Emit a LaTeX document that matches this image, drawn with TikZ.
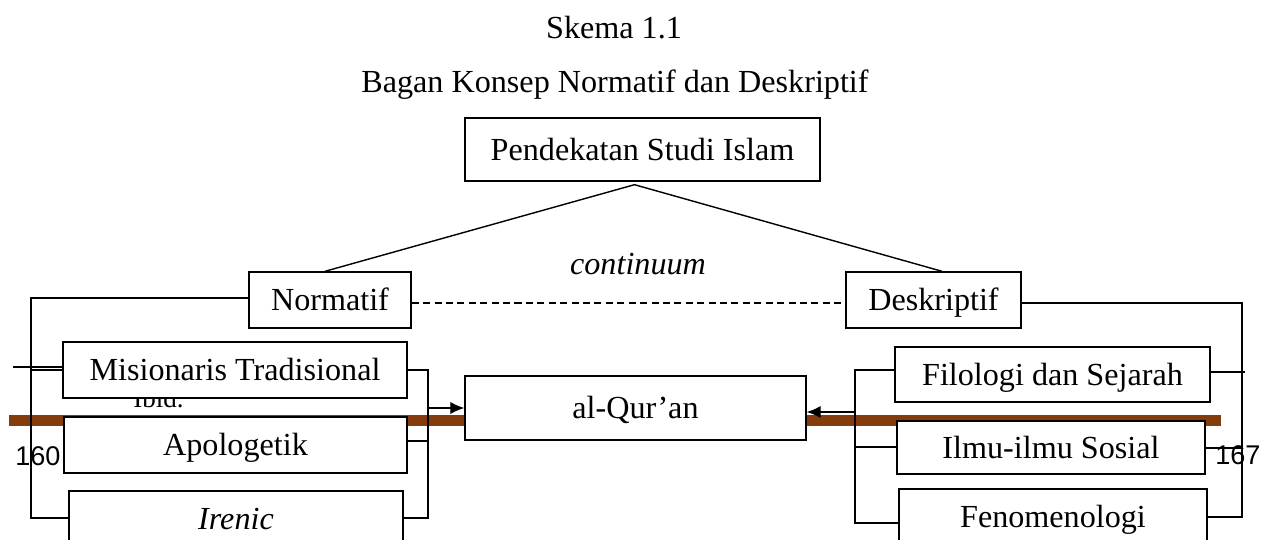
\documentclass[tikz,border=0pt]{standalone}
\usepackage{fontspec}
\setmainfont{Liberation Serif}
\newfontfamily\pagenofont{Liberation Sans}
\usepackage{xcolor}
\usetikzlibrary{arrows,arrows.meta,positioning}
\definecolor{footbrown}{RGB}{132,60,12}
\tikzstyle{box} = [rectangle, draw=black, fill=white, line width=0.8pt, inner sep=0pt, text centered, text height=12.5pt, text depth=0pt, font=\fontsize{18.3}{22}\selectfont]
\tikzstyle{link} = [line width=0.8pt]
\tikzstyle{arrow} = [line width=0.8pt,-{Latex[length=8pt,width=7pt]}]
\tikzstyle{title} = [anchor=base, inner sep=0pt, font=\fontsize{18.3}{22}\selectfont]

\begin{document}
\begin{tikzpicture}[x=0.02cm, y=-0.02cm]
                                \useasboundingbox (0,0) rectangle (1271,540);
                                % footnote remains behind the chart
                                \coordinate (bl) at (9,420.5);
                                \coordinate (br) at (1221,420.5);
                                \draw [footbrown, line width=0.22cm] (bl) -- (br);
                                \node (ibid) [anchor=base west, inner sep=0pt, font=\fontsize{15.4}{18}\selectfont] at (133,407) {Ibid.};
                                % titles
                                \node (skema) [title] at (614,39) {Skema 1.1};
                                \node (bagan) [title] at (615,93) {Bagan Konsep Normatif dan Deskriptif};
                                \node (cont) [title, font=\fontsize{18.3}{22}\selectfont\itshape] at (638,275) {continuum};
                                % boxes
                                \node (pend) [box, minimum width=7.1cm, minimum height=1.26cm] at (642.5,149.5) {Pendekatan Studi Islam};
                                \node (norm) [box, minimum width=3.24cm, minimum height=1.12cm] at (330,300) {Normatif};
                                \node (desk) [box, minimum width=3.5cm, minimum height=1.12cm] at (933.5,300) {Deskriptif};
                                \node (mis) [box, minimum width=6.88cm, minimum height=1.12cm] at (235,370) {Misionaris Tradisional};
                                \node (apo) [box, minimum width=6.86cm, minimum height=1.12cm] at (235.5,445) {Apologetik};
                                \node (iren) [box, minimum width=6.68cm, minimum height=1.12cm] at (236,519) {\itshape Irenic};
                                \node (quran) [box, minimum width=6.82cm, minimum height=1.28cm] at (635.5,408) {al-Qur'an};
                                \node (fil) [box, minimum width=6.3cm, minimum height=1.1cm] at (1052.5,374.5) {Filologi dan Sejarah};
                                \node (ilmu) [box, minimum width=6.16cm, minimum height=1.06cm] at (1051,447.5) {Ilmu-ilmu Sosial};
                                \node (fen) [box, minimum width=6.16cm, minimum height=1.12cm] at (1053,517) {Fenomenologi};
                                % top branches
                                \draw [link] ([xshift=-0.1cm]norm.north) -- ([xshift=-0.16cm, yshift=-0.06cm]pend.south) -- ([xshift=0.17cm]desk.north);
                                \draw [link, dashed, dash pattern=on 4pt off 2.5pt] ([yshift=-0.06cm]norm.east) -- ([yshift=-0.06cm]desk.west);
                                % left group
                                \coordinate (nl) at (31,298);
                                \coordinate (nlb) at (31,518);
                                \draw [link] (norm.west |- nl) -- (nl) -- (nlb) -- (iren.west |- nlb);
                                \coordinate (ml) at (13,367);
                                \coordinate (ml2) at (31,370);
                                \draw [link] (ml) -- (mis.west |- ml);
                                \draw [link] (ml2) -- (mis.west |- ml2);
                                \coordinate (lt) at (428,370);
                                \coordinate (lm) at (428,441);
                                \coordinate (lb) at (428,518);
                                \coordinate (la) at (428,408);
                                \draw [link] (mis.east |- lt) -- (lt) -- (lb) -- (iren.east |- lb);
                                \draw [link] (apo.east |- lm) -- (lm);
                                \draw [arrow] (la) -- (quran.west |- la);
                                % right group
                                \coordinate (rt) at (855,370);
                                \coordinate (rm) at (855,447);
                                \coordinate (rb) at (855,523);
                                \coordinate (ra) at (855,412);
                                \draw [link] (fil.west |- rt) -- (rt) -- (rb) -- (fen.west |- rb);
                                \draw [link] (rm) -- (ilmu.west |- rm);
                                \draw [arrow] (ra) -- (quran.east |- ra);
                                \coordinate (ot) at (1242,303);
                                \coordinate (of) at (1245,372);
                                \coordinate (oi) at (1242,448);
                                \coordinate (ob) at (1242,517);
                                \draw [link] (desk.east |- ot) -- (ot) -- (ob) -- (fen.east |- ob);
                                \draw [link] (fil.east |- of) -- (of);
                                \draw [link] (ilmu.east |- oi) -- (oi);
                                % page numbers
                                \node (pgl) [anchor=base west, inner sep=0pt, font=\pagenofont\fontsize{15.4}{18}\selectfont] at (15,465) {160};
                                \node (pgr) [anchor=base west, inner sep=0pt, font=\pagenofont\fontsize{15.4}{18}\selectfont] at (1215,464) {167};
                            \end{tikzpicture}
\end{document}
